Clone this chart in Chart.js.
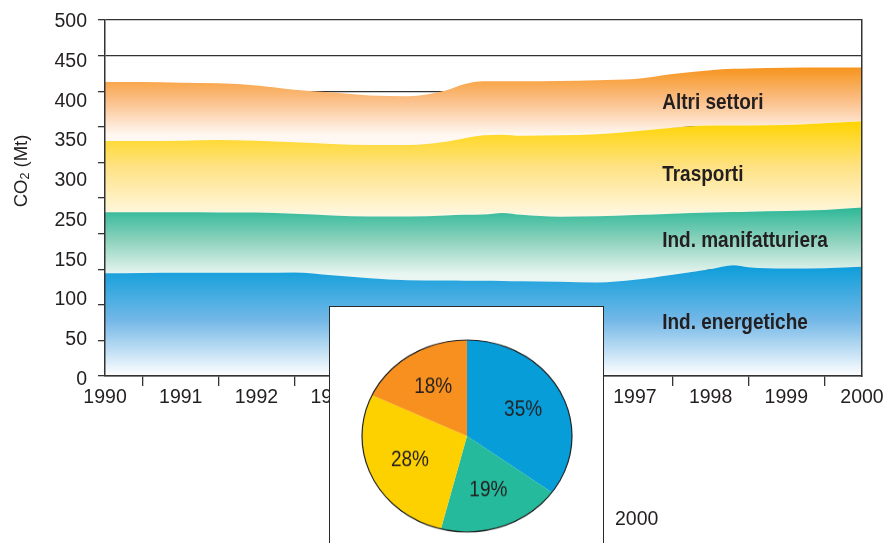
<!DOCTYPE html>
<html>
<head>
<meta charset="utf-8">
<script src="https://cdn.jsdelivr.net/npm/chart.js@4.4.1/dist/chart.umd.min.js"></script>
<style>
  body { margin: 0; background: #fff; overflow: hidden; }
  #wrap { position: relative; width: 886px; height: 543px; overflow: hidden; }
  #main { position: absolute; left: 0; top: 0; }
  #inset { position: absolute; left: 329px; top: 306px; width: 273px; height: 260px; border: 1.5px solid #2a2a2a; background: #fff; }
  #pie { position: absolute; left: 359px; top: 328px; transform: scaleY(0.914); transform-origin: 50% 50%; }
  #pieYear { position: absolute; left: 615px; top: 507px; line-height: 20px; font: 19.5px "Liberation Sans", Arial, sans-serif; color: #231f20; }
</style>
</head>
<body>
<div id="wrap">
  <canvas id="main" width="886" height="543"></canvas>
  <div id="inset"></div>
  <canvas id="pie" width="216" height="216"></canvas>
  <div id="pieYear">2000</div>
</div>
<script>
// emissioni di CO2 per settore (Mt)
const years = [1990, 1990.5, 1991, 1991.5, 1992, 1992.5, 1993, 1993.5, 1994, 1994.5, 1994.75, 1995,
  1995.25, 1995.5, 1996, 1996.5, 1997, 1997.5, 1998, 1998.3, 1998.5, 1999, 1999.5, 2000];
const energetiche = [144.4, 144.8, 145, 145, 145, 145.5, 141.5, 137.3, 134.5, 134, 133.8, 133.8,
  133.5, 133, 132.4, 131.4, 135.2, 142.3, 150, 155.6, 152.8, 151.1, 151.4, 153.5];
const manifatturiera = [85.6, 85.2, 85, 84.8, 84.6, 82.3, 83.9, 86.7, 89.5, 91.4, 92.5, 93,
  95.5, 93.3, 91.1, 92.8, 90.8, 85.5, 79.6, 74.8, 78, 80.6, 81.7, 83.1];
const trasporti = [100, 100, 100.3, 101.7, 100.9, 100.4, 100.6, 100.6, 100.6, 103.6, 107.7, 111.2,
  110, 111.2, 114.5, 115.2, 117.7, 120.8, 122.4, 121.6, 121.2, 120.8, 121.9, 121.1];
const altriSettori = [83, 83, 81.7, 79.5, 77.5, 73.8, 72, 69.4, 68.4, 72, 76, 76,
  75, 76.5, 76.5, 76.1, 73.3, 75.4, 77.5, 79.5, 80, 80.5, 78.3, 75.7];

const seriesNames = ['Ind. energetiche', 'Ind. manifatturiera', 'Trasporti', 'Altri settori'];
const yTickLabels = ['0', '50', '100', '150', '250', '300', '350', '400', '450', '500'];

// torta 2000 (%)
const pieShares2000 = [35, 19, 28, 18];

const FONT = '"Liberation Sans", Arial, sans-serif';
const INK = '#231f20';
Chart.defaults.font.family = FONT;
Chart.defaults.color = INK;

const bandColors = [
  ['#0b9dda', '#74b8e7', '#ffffff'],
  ['#2db897', '#8fd3be', '#eaf6f1'],
  ['#ffd400', '#fee285', '#fff7de'],
  ['#f7941d', '#fbc08a', '#fff8f2']
];
const pieColors = ['#069dd9', '#25ba9b', '#fdd000', '#f7901e'];

const seriesData = [energetiche, manifatturiera, trasporti, altriSettori];

function cumulative(upTo) {
  return years.map((_, k) => {
    let s = 0;
    for (let j = 0; j <= upTo; j++) s += seriesData[j][k];
    return s;
  });
}

function bandGradient(chart, i) {
  const { ctx, chartArea, scales } = chart;
  if (!chartArea) return bandColors[i][0];
  const tops = cumulative(i);
  const bottoms = i === 0 ? years.map(() => 0) : cumulative(i - 1);
  const avgBottom = bottoms.reduce((a, b) => a + b, 0) / bottoms.length;
  const yTop = scales.y.getPixelForValue(Math.max(...tops));
  const yBot = scales.y.getPixelForValue(avgBottom);
  const g = ctx.createLinearGradient(0, yTop, 0, yBot);
  g.addColorStop(0, bandColors[i][0]);
  g.addColorStop(0.5, bandColors[i][1]);
  g.addColorStop(1, bandColors[i][2]);
  return g;
}

// etichette dentro le aree (anno, valore della linea di base)
const bandLabels = [
  { text: 'Altri settori', x: 1997.36, y: 375.6 },
  { text: 'Trasporti', x: 1997.36, y: 273.7 },
  { text: 'Ind. manifatturiera', x: 1997.36, y: 180.7 },
  { text: 'Ind. energetiche', x: 1997.36, y: 65.8 }
];

const textPlugin = {
  id: 'textPlugin',
  afterDraw(chart) {
    const { ctx, scales, chartArea } = chart;
    ctx.save();
    ctx.fillStyle = INK;
    ctx.font = 'bold 19px ' + FONT;
    ctx.textAlign = 'left';
    ctx.textBaseline = 'alphabetic';
    bandLabels.forEach((l) => {
      ctx.save();
      ctx.translate(scales.x.getPixelForValue(l.x), scales.y.getPixelForValue(l.y));
      ctx.scale(1, 1.12);
      ctx.fillText(l.text, 0, 0);
      ctx.restore();
    });

    // titolo asse y: CO2 (Mt)
    ctx.translate(chartArea.left - 83, chartArea.top + 151);
    ctx.rotate(-Math.PI / 2);
    ctx.textBaseline = 'middle';
    const big = '18.5px ' + FONT;
    const small = '12.5px ' + FONT;
    ctx.font = big;
    const w1 = ctx.measureText('CO').width;
    const w3 = ctx.measureText(' (Mt)').width;
    ctx.font = small;
    const w2 = ctx.measureText('2').width;
    let x = -(w1 + w2 + w3) / 2;
    ctx.font = big;
    ctx.fillText('CO', x, 0);
    x += w1;
    ctx.font = small;
    ctx.fillText('2', x, 4);
    x += w2;
    ctx.font = big;
    ctx.fillText(' (Mt)', x, 0);
    ctx.restore();
  }
};

new Chart(document.getElementById('main'), {
  type: 'line',
  data: {
    labels: years,
    datasets: seriesNames.map((name, i) => ({
      label: name,
      data: seriesData[i],
      fill: i === 0 ? 'origin' : '-1',
      backgroundColor: (c) => bandGradient(c.chart, i),
      borderWidth: 0,
      pointRadius: 0,
      cubicInterpolationMode: 'monotone'
    }))
  },
  options: {
    responsive: false,
    animation: false,
    layout: { padding: { left: 54.5, right: 24, top: 20, bottom: 133.6 } },
    plugins: { legend: { display: false }, tooltip: { enabled: false } },
    scales: {
      x: {
        type: 'linear',
        min: 1990,
        max: 2000,
        ticks: { stepSize: 1, padding: 0, font: { size: 19.5 }, color: INK, callback: (v) => String(v) },
        grid: { offset: true, drawOnChartArea: false, tickLength: 10, color: '#333', lineWidth: 1.3 },
        border: { display: true, color: '#333', width: 1.5, z: 1 }
      },
      y: {
        stacked: true,
        min: 0,
        max: 500,
        weight: 0,
        ticks: { stepSize: 50, display: false },
        grid: { color: '#333', lineWidth: 1.3, tickLength: 7 },
        border: { display: true, color: '#333', width: 1.5, z: 1 }
      },
      yLab: {
        type: 'linear',
        position: 'left',
        weight: 1,
        min: 0.083,
        max: 9.048,
        afterBuildTicks: (scale) => { scale.ticks = yTickLabels.map((_, i) => ({ value: i })); },
        ticks: { autoSkip: false, padding: 0, font: { size: 19.5 }, color: INK, callback: (v) => yTickLabels[Math.round(v)] },
        // grid hidden; tickLength only spaces the labels from the axis
        grid: { display: false, drawTicks: true, tickLength: 11 },
        border: { display: false }
      },
      yr: {
        type: 'linear',
        position: 'right',
        min: 0,
        max: 500,
        ticks: { display: false },
        grid: { display: false, drawTicks: false },
        border: { display: true, color: '#333', width: 1.5, z: 1 }
      }
    }
  },
  plugins: [textPlugin]
});

const pieDecor = {
  id: 'pieDecor',
  afterDatasetsDraw(chart) {
    const ctx = chart.ctx;
    const arcs = chart.getDatasetMeta(0).data;
    const a0 = arcs[0];
    ctx.save();
    ctx.beginPath();
    ctx.arc(a0.x, a0.y, a0.outerRadius, 0, Math.PI * 2);
    ctx.lineWidth = 1.2;
    ctx.strokeStyle = '#222';
    ctx.stroke();
    ctx.fillStyle = INK;
    ctx.font = '19px ' + FONT;
    ctx.textAlign = 'center';
    ctx.textBaseline = 'middle';
    arcs.forEach((arc, i) => {
      const mid = (arc.startAngle + arc.endAngle) / 2;
      const r = arc.outerRadius * 0.6;
      ctx.save();
      ctx.translate(arc.x + Math.cos(mid) * r, arc.y + Math.sin(mid) * r);
      ctx.scale(1, 1.22);
      ctx.fillText(pieShares2000[i] + '%', 0, 0);
      ctx.restore();
    });
    ctx.restore();
  }
};

new Chart(document.getElementById('pie'), {
  type: 'pie',
  data: {
    labels: seriesNames,
    datasets: [{ data: pieShares2000, backgroundColor: pieColors, borderWidth: 0 }]
  },
  options: {
    responsive: false,
    animation: false,
    layout: { padding: 3 },
    plugins: { legend: { display: false }, tooltip: { enabled: false } }
  },
  plugins: [pieDecor]
});
</script>
</body>
</html>
